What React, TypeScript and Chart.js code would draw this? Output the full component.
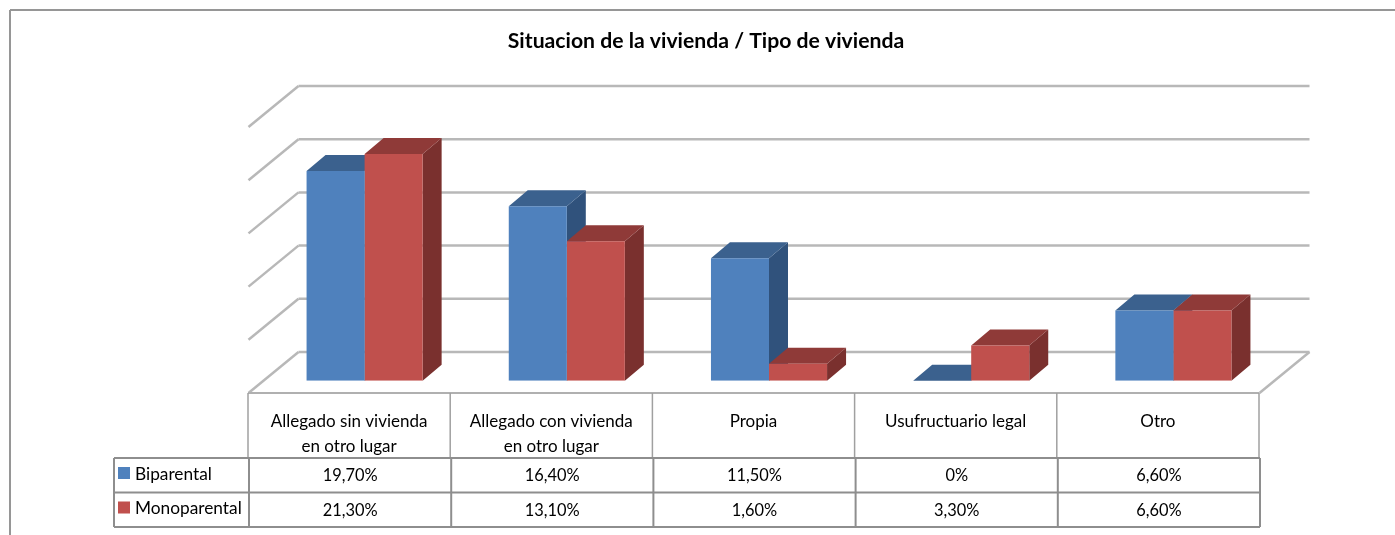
import React, { useEffect, useRef } from "react";
import { Chart, registerables } from "chart.js";

Chart.register(...registerables);

const titleText = "Situacion de la vivienda / Tipo de vivienda";
const categories = [
  ["Allegado sin vivienda", "en otro lugar"],
  ["Allegado con vivienda", "en otro lugar"],
  ["Propia"],
  ["Usufructuario legal"],
  ["Otro"],
];
const biparental = [19.7, 16.4, 11.5, 0, 6.6];
const monoparental = [21.3, 13.1, 1.6, 3.3, 6.6];
const seriesNames = ["Biparental", "Monoparental"];

const BLUE = ["#4F81BD", "#3B618E", "#30527C"];
const RED = ["#C0504D", "#8F3A38", "#7A302E"];
const GRID = "#B8B8B8";
const TABLE = "#8E8E8E";
const FONT = "Lato, Carlito, sans-serif";

const fmt = (v: number) => (v === 0 ? "0%" : v.toFixed(2).replace(".", ",") + "%");

function line(ctx: CanvasRenderingContext2D, x1: number, y1: number, x2: number, y2: number) {
  ctx.beginPath();
  ctx.moveTo(x1, y1);
  ctx.lineTo(x2, y2);
  ctx.stroke();
}

function poly(ctx: CanvasRenderingContext2D, pts: number[][], color: string) {
  ctx.fillStyle = color;
  ctx.beginPath();
  pts.forEach((p, i) => (i ? ctx.lineTo(p[0], p[1]) : ctx.moveTo(p[0], p[1])));
  ctx.closePath();
  ctx.fill();
}

const scene3d = {
  id: "scene3d",
  beforeDatasetsDraw(chart: any) {
    const { ctx, chartArea: a, scales } = chart;
    const y = scales.y;
    const backDx = 35, backDy = 28.7, frontDx = 15, frontDy = 12.3;
    ctx.save();
    // walls and floor
    ctx.strokeStyle = GRID;
    ctx.lineWidth = 2.5;
    y.ticks.forEach((t: any) => {
      const py = y.getPixelForValue(t.value);
      line(ctx, a.left + backDx, py - backDy, a.right + backDx, py - backDy);
      line(ctx, a.left - frontDx, py + frontDy, a.left + backDx, py - backDy);
    });
    const y0 = y.getPixelForValue(0);
    line(ctx, a.right - frontDx, y0 + frontDy, a.right + backDx, y0 - backDy);
    // depth faces of the bars
    const dx = 19, dy = 16;
    const meta = [chart.getDatasetMeta(0), chart.getDatasetMeta(1)];
    const pal = [BLUE, RED];
    categories.forEach((_, i) => {
      meta.forEach((m, s) => {
        const b = m.data[i];
        const half = b.width / 2;
        const l = b.x - half, r = b.x + half;
        poly(ctx, [[r, b.y], [r + dx, b.y - dy], [r + dx, b.base - dy], [r, b.base]], pal[s][2]);
        poly(ctx, [[l, b.y], [l + dx, b.y - dy], [r + dx, b.y - dy], [r, b.y]], pal[s][1]);
      });
    });
    ctx.restore();
  },
  afterDraw(chart: any) {
    const { ctx, chartArea: a, scales } = chart;
    const y0 = scales.y.getPixelForValue(0) + 12.3;
    const colW = (a.right - a.left) / categories.length;
    const L = a.left - 15.5;
    const R = a.right - 15.5;
    const rowTop = y0 + 65;
    const rowH = 34.5;
    const legL = 114;
    ctx.save();
    // outer chart border
    ctx.strokeStyle = "#969696";
    ctx.lineWidth = 2;
    line(ctx, 10, 535, 10, 10);
    line(ctx, 10, 10, 1395, 10);
    // title
    ctx.fillStyle = "#000";
    ctx.textAlign = "center";
    ctx.textBaseline = "middle";
    ctx.font = `bold 21.2px ${FONT}`;
    ctx.fillText(titleText, 706, 41);
    // header row
    ctx.strokeStyle = "#B0B0B0";
    ctx.lineWidth = 2;
    line(ctx, L, y0, R, y0);
    for (let i = 0; i <= categories.length; i++) {
      ctx.strokeStyle = "#A0A0A0";
      ctx.lineWidth = 1.5;
      line(ctx, L + i * colW, y0, L + i * colW, rowTop);
    }
    // data rows
    ctx.strokeStyle = TABLE;
    ctx.lineWidth = 2;
    for (let r = 0; r <= 2; r++) {
      line(ctx, legL, rowTop + r * rowH, R + 1, rowTop + r * rowH);
    }
    line(ctx, legL, rowTop, legL, rowTop + 2 * rowH);
    for (let i = 0; i <= categories.length; i++) {
      const px = L + i * colW + 1;
      line(ctx, px, rowTop, px, rowTop + 2 * rowH);
    }
    // text
    ctx.fillStyle = "#000";
    categories.forEach((lines, i) => {
      const cx = L + (i + 0.5) * colW;
      ctx.font = `17px ${FONT}`;
      lines.forEach((t, k) => ctx.fillText(t, cx, y0 + 29 + k * 25));
      ctx.font = `16.4px ${FONT}`;
      ctx.fillText(fmt(biparental[i]), cx + 1, rowTop + 18);
      ctx.fillText(fmt(monoparental[i]), cx + 1, rowTop + 18 + rowH);
    });
    ctx.textAlign = "left";
    ctx.font = `17.3px ${FONT}`;
    seriesNames.forEach((n, s) => {
      const cy = rowTop + s * rowH + 15;
      ctx.fillStyle = [BLUE, RED][s][0];
      ctx.fillRect(118, cy - 6, 12, 12);
      ctx.fillStyle = "#000";
      ctx.fillText(n, 135, cy + 1);
    });
    ctx.restore();
  },
};

export default function App() {
  const ref = useRef<HTMLCanvasElement>(null);
  useEffect(() => {
    document.body.style.margin = "0";
    document.body.style.background = "#fff";
    const chart = new Chart(ref.current!, {
      type: "bar",
      data: {
        labels: categories.map((c) => c.join(" ")),
        datasets: [
          { label: seriesNames[0], data: biparental, backgroundColor: BLUE[0], borderWidth: 0 },
          { label: seriesNames[1], data: monoparental, backgroundColor: RED[0], borderWidth: 0 },
        ],
      },
      options: {
        responsive: false,
        animation: false,
        layout: { padding: { left: 263.5, right: 120.5, top: 114.7, bottom: 154.3 } },
        plugins: { legend: { display: false }, title: { display: false }, tooltip: { enabled: false } },
        datasets: { bar: { categoryPercentage: 0.574, barPercentage: 1 } },
        scales: {
          x: { display: false },
          y: { display: false, min: 0, max: 25, ticks: { stepSize: 5 } },
        },
      },
      plugins: [scene3d],
    } as any);
    return () => chart.destroy();
  }, []);
  return <canvas ref={ref} width={1395} height={535} style={{ display: "block" }} />;
}
